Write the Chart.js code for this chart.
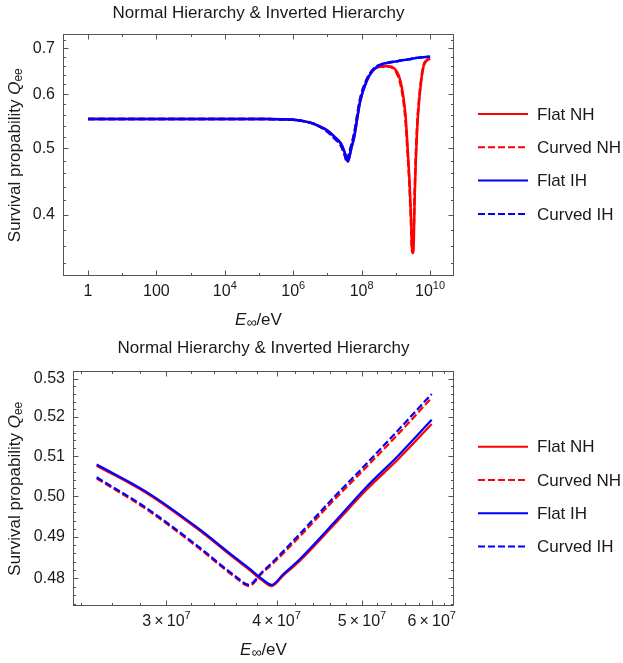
<!DOCTYPE html>
<html>
<head>
<meta charset="utf-8">
<script src="https://cdn.jsdelivr.net/npm/chart.js@4.4.0/dist/chart.umd.min.js"></script>
<style>
  body { margin: 0; background: #fff; }
  canvas { display: block; }
</style>
</head>
<body>
<canvas id="chartTop" width="623" height="330"></canvas>
<canvas id="chartBottom" width="623" height="333"></canvas>
<script>
// ---- data ----
const seriesLabels = ['Flat NH', 'Curved NH', 'Flat IH', 'Curved IH'];
const seriesColors = ['#ff0000', '#ff0000', '#0000ff', '#0000ff'];
const seriesDash = [[], [7, 3], [], [7, 3]];

// top panel: full energy range
const energyTop = [1, 10, 100, 1e3, 1e4, 1e5, 1e6, 2e6, 4e6, 1e7, 1.6e7, 2.5e7, 3.2e7, 3.72e7, 3.95e7, 5e7, 6e7,
  9e7, 1.4e8, 2.2e8, 3.5e8, 5.5e8, 1.07e9, 1.5e9, 1.9e9, 2.2e9, 2.5e9, 2.75e9, 2.95e9, 3.1e9, 3.3e9, 3.55e9,
  3.8e9, 4.17e9, 4.68e9, 5.5e9, 6.46e9, 8.1e9, 1e10];
const flatNHTop = [0.552, 0.552, 0.552, 0.552, 0.552, 0.5518, 0.5505, 0.548, 0.543, 0.531, 0.520, 0.5076, 0.4927, 0.4821, 0.4785, 0.5005, 0.5182,
  0.585, 0.627, 0.650, 0.658, 0.659, 0.647, 0.613, 0.561, 0.502, 0.449, 0.402, 0.360, 0.352, 0.360, 0.425,
  0.475, 0.531, 0.579, 0.627, 0.659, 0.672, 0.676];
const curvedNHTop = [0.552, 0.552, 0.552, 0.552, 0.552, 0.5518, 0.5505, 0.548, 0.543, 0.529, 0.517, 0.5044, 0.4885, 0.4784, 0.4836, 0.5055, 0.5245,
  0.590, 0.630, 0.651, 0.658, 0.658, 0.643, 0.606, 0.551, 0.492, 0.440, 0.392, 0.355, 0.353, 0.375, 0.435,
  0.485, 0.539, 0.585, 0.631, 0.661, 0.673, 0.676];
const flatIHTop = [0.552, 0.552, 0.552, 0.552, 0.552, 0.5518, 0.5505, 0.548, 0.543, 0.531, 0.520, 0.508, 0.493, 0.4824, 0.4787, 0.501, 0.519,
  0.585, 0.627, 0.651, 0.662, 0.666, 0.670, 0.672, 0.673, 0.674, 0.6745, 0.675, 0.6755, 0.676, 0.676, 0.6765,
  0.677, 0.6775, 0.678, 0.6785, 0.679, 0.6795, 0.680];
const curvedIHTop = [0.552, 0.552, 0.552, 0.552, 0.552, 0.5518, 0.5505, 0.548, 0.543, 0.529, 0.517, 0.5047, 0.489, 0.4786, 0.4840, 0.506, 0.525,
  0.590, 0.630, 0.653, 0.662, 0.666, 0.670, 0.672, 0.673, 0.674, 0.6745, 0.675, 0.6755, 0.676, 0.676, 0.6765,
  0.677, 0.6775, 0.678, 0.6785, 0.679, 0.6795, 0.680];

// bottom panel: zoom around the first dip
const energyBottom = [2.5e7, 2.85e7, 3.25e7, 3.6e7, 3.72e7, 3.85e7, 3.95e7, 4.07e7, 4.25e7, 4.65e7, 5.05e7, 5.5e7, 6.0e7];
const flatNHBottom = [0.5076, 0.5007, 0.4920, 0.4845, 0.4822, 0.4796, 0.4782, 0.4807, 0.4842, 0.4930, 0.5014, 0.5093, 0.5182];
const curvedNHBottom = [0.5044, 0.4967, 0.4876, 0.4801, 0.4782, 0.4812, 0.4833, 0.4860, 0.4901, 0.4991, 0.5071, 0.5157, 0.5250];
const flatIHBottom = [0.5079, 0.5010, 0.4923, 0.4848, 0.4825, 0.4799, 0.4785, 0.4810, 0.4846, 0.4935, 0.5021, 0.5102, 0.5193];
const curvedIHBottom = [0.5047, 0.4970, 0.4879, 0.4804, 0.4785, 0.4815, 0.4837, 0.4865, 0.4907, 0.4998, 0.5079, 0.5167, 0.5260];

// ticks ('^' marks the exponent)
const xTicksTop = [1, 100, 1e4, 1e6, 1e8, 1e10];
const xTickLabelsTop = ['1', '100', '10^4', '10^6', '10^8', '10^10'];
const xMinorTop = [10, 1e3, 1e5, 1e7, 1e9];
const yTicksTop = [0.4, 0.5, 0.6, 0.7];
const yTickLabelsTop = ['0.4', '0.5', '0.6', '0.7'];
const yMinorTop = [0.34, 0.36, 0.38, 0.42, 0.44, 0.46, 0.48, 0.52, 0.54, 0.56, 0.58, 0.62, 0.64, 0.66, 0.68, 0.72];

const xTicksBottom = [3e7, 4e7, 5e7, 6e7];
const xTickLabelsBottom = ['3\u2009×\u200910^7', '4\u2009×\u200910^7', '5\u2009×\u200910^7', '6\u2009×\u200910^7'];
const xMinorBottom = [2.4e7, 2.6e7, 2.8e7, 3.2e7, 3.4e7, 3.6e7, 3.8e7, 4.2e7, 4.4e7, 4.6e7, 4.8e7,
  5.2e7, 5.4e7, 5.6e7, 5.8e7, 6.2e7];
const yTicksBottom = [0.48, 0.49, 0.50, 0.51, 0.52, 0.53];
const yTickLabelsBottom = ['0.48', '0.49', '0.50', '0.51', '0.52', '0.53'];
const yMinorBottom = [0.474, 0.476, 0.478, 0.482, 0.484, 0.486, 0.488, 0.492, 0.494, 0.496, 0.498,
  0.502, 0.504, 0.506, 0.508, 0.512, 0.514, 0.516, 0.518, 0.522, 0.524, 0.526, 0.528];

const chartTitle = 'Normal Hierarchy & Inverted Hierarchy';

// ---- styling ----
const fontFam = '"Liberation Sans", Arial, sans-serif';
const frameColor = '#555555';
const textColor = '#1a1a1a';

// frame with inward ticks on all four sides, x tick labels, axis titles and the legend
const framePlugin = {
  id: 'frame',
  beforeDatasetsDraw(chart, args, o) {
    const { ctx, chartArea: a, scales } = chart;
    const L = Math.round(a.left) + 0.5, R = Math.round(a.right) - 0.5;
    const T = Math.round(a.top) + 0.5, B = Math.round(a.bottom) - 0.5;
    ctx.save();
    ctx.strokeStyle = frameColor;
    ctx.lineWidth = 1;
    ctx.strokeRect(L, T, R - L, B - T);
    ctx.beginPath();
    const inX = v => v >= scales.x.min && v <= scales.x.max;
    const inY = v => v >= scales.y.min && v <= scales.y.max;
    const tickX = (v, len) => {
      const px = Math.round(scales.x.getPixelForValue(v)) + 0.5;
      ctx.moveTo(px, B); ctx.lineTo(px, B - len);
      ctx.moveTo(px, T); ctx.lineTo(px, T + len);
    };
    const tickY = (v, len) => {
      const py = Math.round(scales.y.getPixelForValue(v)) + 0.5;
      ctx.moveTo(L, py); ctx.lineTo(L + len, py);
      ctx.moveTo(R, py); ctx.lineTo(R - len, py);
    };
    o.xMajor.filter(inX).forEach(v => tickX(v, 5));
    o.xMinor.filter(inX).forEach(v => tickX(v, 2.5));
    o.yMajor.filter(inY).forEach(v => tickY(v, 5));
    o.yMinor.filter(inY).forEach(v => tickY(v, 2.5));
    ctx.stroke();
    ctx.restore();
  },
  afterDraw(chart, args, o) {
    const { ctx, chartArea: a, scales } = chart;
    const fs = o.fontSize;
    const drawRuns = (runs, cx, cy) => {
      let w = 0;
      runs.forEach(r => { ctx.font = r.font; w += ctx.measureText(r.text).width; });
      let x = cx - w / 2;
      runs.forEach(r => {
        ctx.font = r.font;
        ctx.fillText(r.text, x, cy + (r.dy || 0));
        x += ctx.measureText(r.text).width;
      });
    };
    ctx.save();
    ctx.fillStyle = textColor;
    ctx.textBaseline = 'middle';
    ctx.textAlign = 'left';

    // x tick labels with real superscripts
    o.xMajor.forEach((v, i) => {
      const [base, sup] = o.xLabels[i].split('^');
      const runs = [{ text: base, font: `${o.tickFont}px ${fontFam}` }];
      if (sup) runs.push({ text: sup, font: `${Math.round(o.tickFont * 0.7)}px ${fontFam}`, dy: -6 });
      drawRuns(runs, scales.x.getPixelForValue(v), a.bottom + o.xLabelDy);
    });

    // y axis title
    ctx.save();
    ctx.translate(o.yTitleX, (a.top + a.bottom) / 2);
    ctx.rotate(-Math.PI / 2);
    drawRuns([
      { text: 'Survival propability ', font: `${fs}px ${fontFam}` },
      { text: 'Q', font: `italic ${fs}px ${fontFam}` },
      { text: 'ee', font: `${Math.round(fs * 0.68)}px ${fontFam}`, dy: 4 }
    ], 0, 0);
    ctx.restore();

    // x axis title
    drawRuns([
      { text: 'E', font: `italic ${fs}px ${fontFam}` },
      { text: '∞', font: `${Math.round(fs * 0.8)}px ${fontFam}`, dy: 3 },
      { text: '/eV', font: `${fs}px ${fontFam}` }
    ], (a.left + a.right) / 2, a.bottom + o.xTitleDy);

    // legend
    chart.data.datasets.forEach((ds, i) => {
      const y = o.legendY + i * o.legendStep;
      ctx.save();
      ctx.strokeStyle = ds.borderColor;
      ctx.lineWidth = 2;
      ctx.setLineDash(ds.borderDash || []);
      ctx.beginPath();
      ctx.moveTo(o.legendX, y);
      ctx.lineTo(o.legendX + 50, y);
      ctx.stroke();
      ctx.restore();
      ctx.font = `${o.legendFont}px ${fontFam}`;
      ctx.fillText(ds.label, o.legendX + 59, y + 1);
    });
    ctx.restore();
  }
};

function makeDatasets(energies, seriesList, width) {
  // draw order: Curved IH on top, Flat NH at the bottom
  const drawOrder = [3, 2, 1, 0];
  return seriesList.map((vals, i) => ({
    label: seriesLabels[i],
    data: energies.map((e, k) => ({ x: e, y: vals[k] })),
    borderColor: seriesColors[i],
    backgroundColor: seriesColors[i],
    borderDash: seriesDash[i],
    borderWidth: width,
    pointRadius: 0,
    fill: false,
    order: drawOrder[i],
    cubicInterpolationMode: 'monotone'
  }));
}

function makeChart(id, cfg) {
  const tickFont = { family: fontFam, size: 16 };
  return new Chart(document.getElementById(id), {
    type: 'line',
    data: { datasets: makeDatasets(cfg.energies, cfg.series, cfg.lineWidth) },
    options: {
      responsive: false,
      animation: false,
      devicePixelRatio: 1,
      layout: { padding: { left: 0, right: 169, top: 0, bottom: 0 } },
      plugins: {
        legend: { display: false },
        tooltip: { enabled: false },
        title: {
          display: true,
          text: chartTitle,
          fullSize: false,
          color: textColor,
          font: { family: fontFam, size: 17, weight: 'normal', lineHeight: 1.2 },
          padding: cfg.titlePadding
        },
        frame: cfg.frame
      },
      scales: {
        x: {
          type: 'logarithmic',
          min: cfg.xMin,
          max: cfg.xMax,
          grid: { display: false, drawTicks: false },
          border: { display: false },
          afterFit: s => { s.height = cfg.xAxisHeight; },
          afterBuildTicks: s => { s.ticks = cfg.xTicks.map(v => ({ value: v })); },
          ticks: { display: false, autoSkip: false }
        },
        y: {
          type: 'logarithmic',
          min: cfg.yMin,
          max: cfg.yMax,
          grid: { display: false, drawTicks: false },
          border: { display: false },
          afterFit: s => { s.width = cfg.yAxisWidth; },
          afterBuildTicks: s => { s.ticks = cfg.yTicks.map(v => ({ value: v })); },
          ticks: {
            autoSkip: false,
            padding: 8,
            color: textColor,
            font: tickFont,
            callback: (v, i) => cfg.yLabels[i]
          }
        }
      }
    },
    plugins: [framePlugin]
  });
}

makeChart('chartTop', {
  energies: energyTop,
  series: [flatNHTop, curvedNHTop, flatIHTop, curvedIHTop],
  lineWidth: 2.5,
  xMin: 0.186, xMax: 5e10,
  yMin: 0.326, yMax: 0.733,
  xTicks: xTicksTop,
  yTicks: yTicksTop, yLabels: yTickLabelsTop,
  xAxisHeight: 54, yAxisWidth: 63,
  titlePadding: { top: 3, bottom: 11 },
  frame: {
    xMajor: xTicksTop, xLabels: xTickLabelsTop, xMinor: xMinorTop, yMajor: yTicksTop, yMinor: yMinorTop,
    fontSize: 17, tickFont: 16, xLabelDy: 16, yTitleX: 15, xTitleDy: 44,
    legendX: 478, legendY: 114, legendStep: 33.3, legendFont: 17
  }
});

makeChart('chartBottom', {
  energies: energyBottom,
  series: [flatNHBottom, curvedNHBottom, flatIHBottom, curvedIHBottom],
  lineWidth: 2.2,
  xMin: 2.35e7, xMax: 6.36e7,
  yMin: 0.4735, yMax: 0.5319,
  xTicks: xTicksBottom,
  yTicks: yTicksBottom, yLabels: yTickLabelsBottom,
  xAxisHeight: 57, yAxisWidth: 73,
  titlePadding: { top: 8, bottom: 13 },
  frame: {
    xMajor: xTicksBottom, xLabels: xTickLabelsBottom, xMinor: xMinorBottom, yMajor: yTicksBottom, yMinor: yMinorBottom,
    fontSize: 17, tickFont: 16, xLabelDy: 16, yTitleX: 15, xTitleDy: 44,
    legendX: 478, legendY: 116.7, legendStep: 33.3, legendFont: 17
  }
});
</script>
</body>
</html>
